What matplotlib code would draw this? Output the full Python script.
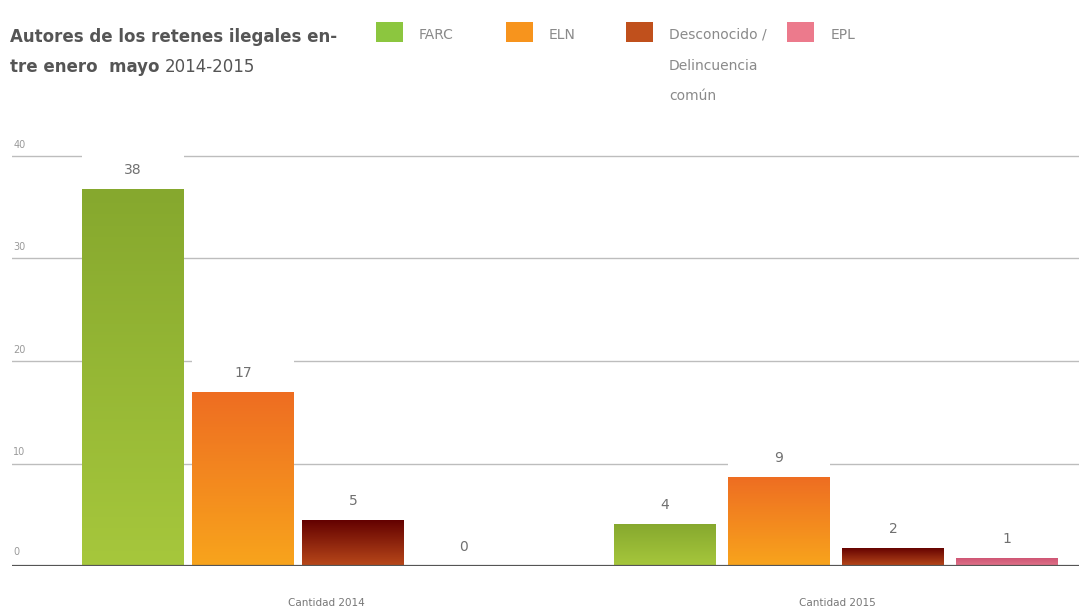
import numpy as np
import matplotlib.pyplot as plt
from matplotlib.colors import LinearSegmentedColormap
from matplotlib.patches import Rectangle

# data
groups = ['Cantidad 2014', 'Cantidad 2015']
series = ['FARC', 'ELN', 'Desconocido /\nDelincuencia\ncomún', 'EPL']
labels = [[38, 4], [17, 9], [5, 2], [0, 1]]          # printed numbers
heights = [[36.8, 4.1], [17.0, 8.7], [4.5, 1.8], [0, 0.8]]  # drawn bar heights

bar_top = ['#86a82e', '#ee6d22', '#620000', '#cc5272']
bar_bot = ['#a6c73c', '#f8a41c', '#b8481a', '#e2748a']
swatch = ['#8cc63f', '#f7941d', '#c0501c', '#ec7a8c']

W, H = 1079, 612
fig = plt.figure(figsize=(W / 100, H / 100), dpi=100)
fig.patch.set_facecolor('white')

ax_left, ax_right, ax_bot, ax_top = 12, 1079, 566, 151
ax = fig.add_axes([ax_left / W, 1 - ax_bot / H, (ax_right - ax_left) / W, (ax_bot - ax_top) / H])
ypx = 10.25  # px per unit
ymax = (ax_bot - ax_top) / ypx
xpx = 538.0
x0 = -(298 - ax_left) / xpx
x1 = (ax_right - 298) / xpx

bw = 102 / xpx
step = [110 / xpx, 114 / xpx]

# gridlines
for v in [10, 20, 30, 40]:
    ax.axhline(v, color='#bdbdbd', lw=1.0, zorder=1)
    ax.text(0.001, v + 0.6, str(v), transform=ax.get_yaxis_transform(), fontsize=7,
            color='#9a9a9a', ha='left', va='bottom')
ax.text(0.001, 0.9, '0', transform=ax.get_yaxis_transform(), fontsize=7,
        color='#9a9a9a', ha='left', va='bottom')
ax.axhline(0, color='#555555', lw=1.6, zorder=6)

for i, name in enumerate(series):
    for g in range(len(groups)):
        xc = g + (i - 1.5) * step[g]
        h = heights[i][g]
        left = xc - bw / 2
        # white box behind the value label (breaks the gridlines)
        ax.add_patch(Rectangle((left, h), bw, 4.0, facecolor='white', edgecolor='none', zorder=2))
        if h > 0:
            bar = ax.bar(xc, h, width=bw, color=bar_bot[i], zorder=3)[0]
            cmap = LinearSegmentedColormap.from_list('g%d' % i, [bar_bot[i], bar_top[i]])
            grad = np.linspace(0, 1, 100).reshape(-1, 1)
            im = ax.imshow(grad, cmap=cmap, aspect='auto', origin='lower',
                           extent=[left, left + bw, 0, h], zorder=4)
            im.set_clip_path(bar)
        ax.text(xc, h + 1.85, str(labels[i][g]), ha='center', va='center',
                fontsize=10, color='#707070', zorder=5)

ax.set_xlim(x0, x1)
ax.set_ylim(0, ymax)
ax.axis('off')

# category labels
for g, txt in enumerate(groups):
    cx = [326, 837][g]
    fig.text(cx / W, 1 - 603 / H, txt, ha='center', va='center', fontsize=7.5, color='#777777')

# title
t1 = fig.text(10 / W, 1 - 37 / H, 'Autores de los retenes ilegales en-', fontsize=12,
              fontweight='bold', color='#555555', va='center', ha='left')
t2 = fig.text(10 / W, 1 - 67 / H, 'tre enero  mayo', fontsize=12,
              fontweight='bold', color='#555555', va='center', ha='left')
r = fig.canvas.get_renderer()
bb = t2.get_window_extent(renderer=r)
fig.text((bb.x1 + 5) / W, 1 - 67 / H, '2014-2015', fontsize=12, color='#555555',
         va='center', ha='left')

# legend
sw_x = [376, 506, 626, 787]
tx_x = [419, 549, 669, 831]
for i, name in enumerate(series):
    fig.patches.append(Rectangle((sw_x[i] / W, 1 - 42 / H), 27 / W, 20 / H,
                                 facecolor=swatch[i], edgecolor='none',
                                 transform=fig.transFigure, figure=fig))
    fig.text(tx_x[i] / W, 1 - 28 / H, name, fontsize=10, color='#8a8a8a',
             ha='left', va='top', linespacing=2.5)

fig.savefig('out.png', dpi=100, facecolor='white')
